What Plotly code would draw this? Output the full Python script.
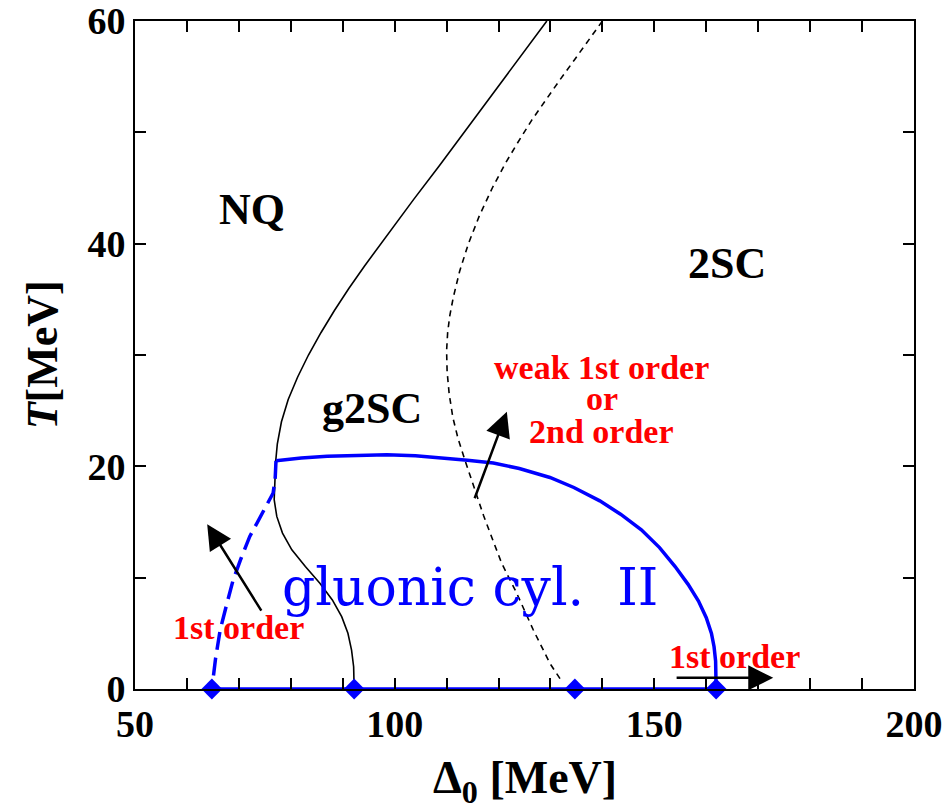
import plotly.graph_objects as go

# ---- data ----
# NQ / g2SC boundary (solid black)
nq_x = [129.3, 121.4, 113.5, 108.6, 103.7, 100.5, 97.3, 94.2, 91.2, 88.4, 85.8, 83.4, 81.3, 79.5, 78.2, 77.4, 77.1,
        76.85, 76.8, 77.3, 78.4, 80.2, 82.8, 85.6, 88.0, 89.8, 91.0, 91.7, 92.1, 92.2]
nq_T = [60.0, 55.0, 50.0, 47.0, 44.0, 42.0, 40.0, 38.0, 36.0, 34.0, 32.0, 30.0, 28.0, 26.0, 24.0, 22.0, 20.5,
        18.5, 17.0, 15.5, 14.0, 12.5, 11.0, 9.5, 8.0, 6.5, 5.0, 3.5, 2.0, 0.0]

# g2SC / 2SC boundary (dashed black)
g2_x = [140.0, 137.9, 134.6, 131.8, 129.2, 126.4, 123.6, 121.3, 118.8, 116.3, 114.2, 112.5, 111.3, 110.6, 110.2,
        110.0, 110.1, 110.5, 111.2, 112.2, 113.5, 115.3, 117.1, 118.8, 120.6, 123.5, 126.7, 129.9, 132.3]
g2_T = [60.0, 58.6, 56.5, 54.7, 53.0, 51.1, 49.0, 47.2, 45.0, 42.5, 40.0, 37.5, 35.2, 33.5, 32.0,
        30.4, 28.5, 26.5, 24.4, 22.5, 20.6, 18.0, 15.6, 13.5, 11.3, 8.6, 5.3, 2.3, 0.6]

# gluonic cylinder II boundary (solid blue)
gc_x = [77.15, 82.0, 87.0, 93.0, 98.5, 104.0, 109.3, 114.0, 119.0, 124.0, 129.9, 134.5, 139.5, 143.5, 147.5,
        151.0, 154.0, 156.5, 158.5, 160.0, 161.0, 161.5, 161.8, 161.9, 161.9]
gc_T = [20.5, 20.75, 20.9, 21.0, 21.05, 20.95, 20.75, 20.55, 20.3, 19.8, 19.0, 18.1, 16.9, 15.7, 14.3,
        12.7, 11.0, 9.4, 7.9, 6.4, 5.0, 3.8, 2.5, 1.2, 0.0]

# first-order boundary (dashed blue)
fo_x = [77.15, 77.0, 76.6, 74.3, 72.1, 70.4, 68.9, 67.6, 66.4, 65.5, 64.8]
fo_T = [20.5, 19.0, 17.6, 15.6, 13.7, 11.7, 9.8, 7.5, 5.3, 2.7, 0.0]

# T = 0 line with marked points
base_x = [64.8, 92.2, 134.7, 161.9]
base_T = [0, 0, 0, 0]

# region labels: (text, x, T)
labels = [
    ("<b>NQ</b>", 72.5, 43.1),
    ("<b>2SC</b>", 163.9, 38.2),
    ("<b>g2SC</b>", 95.6, 25.2),
]
# red transition labels: (text, x, T)
red_labels = [
    ("<b>weak 1st order</b>", 139.9, 28.9),
    ("<b>or</b>", 139.9, 26.05),
    ("<b>2nd order</b>", 139.9, 23.1),
    ("<b>1st order</b>", 70.0, 5.5),
    ("<b>1st order</b>", 165.5, 2.9),
]
# arrows: (tip x, tip T, tail x, tail T)
arrows = [
    (63.9, 14.8, 74.5, 6.9),
    (121.6, 24.9, 115.3, 17.0),
    (172.9, 1.0, 154.0, 1.0),
]

SERIF = "Liberation Serif"
BLUE = "#0000ff"
RED = "#ff0000"

fig = go.Figure()
fig.add_trace(go.Scatter(x=nq_x, y=nq_T, mode="lines", line=dict(color="black", width=1.6), hoverinfo="skip"))
fig.add_trace(go.Scatter(x=g2_x, y=g2_T, mode="lines", line=dict(color="black", width=1.6, dash="6px,5px"), hoverinfo="skip"))
fig.add_trace(go.Scatter(x=gc_x, y=gc_T, mode="lines", line=dict(color=BLUE, width=3.5), hoverinfo="skip"))
fig.add_trace(go.Scatter(x=fo_x, y=fo_T, mode="lines", line=dict(color=BLUE, width=3.5, dash="18px,8px"), hoverinfo="skip"))
fig.add_trace(go.Scatter(x=base_x, y=base_T, mode="lines+markers", line=dict(color=BLUE, width=3.5),
                         marker=dict(symbol="diamond", size=16, color=BLUE), hoverinfo="skip", cliponaxis=False))

ann = []
for t, x, y in labels:
    ann.append(dict(text=t, x=x, y=y, xref="x", yref="y", showarrow=False, xanchor="center", yanchor="middle",
                    font=dict(family=SERIF, size=44, color="black")))
ann.append(dict(text="gluonic cyl.  II", x=114.5, y=9.2, xref="x", yref="y", showarrow=False,
                xanchor="center", yanchor="middle",
                font=dict(family="DejaVu Serif", size=52, color=BLUE)))
for t, x, y in red_labels:
    ann.append(dict(text=t, x=x, y=y, xref="x", yref="y", showarrow=False, xanchor="center", yanchor="middle",
                    font=dict(family=SERIF, size=34, color=RED)))
for tx, ty, sx, sy in arrows:
    ann.append(dict(text="", x=tx, y=ty, ax=sx, ay=sy, xref="x", yref="y", axref="x", ayref="y",
                    showarrow=True, arrowhead=2, arrowsize=2.0, arrowwidth=2.5, arrowcolor="black", standoff=0))
ann.append(dict(text="<b><i>T</i>[MeV]</b>", x=-0.119, y=0.5, xref="paper", yref="paper", textangle=-90,
                xanchor="center", yanchor="middle",
                showarrow=False, font=dict(family=SERIF, size=44, color="black")))
ann.append(dict(text="<b>Δ<sub>0</sub> [MeV]</b>", x=0.5, y=-0.138, xref="paper", yref="paper",
                xanchor="center", yanchor="middle",
                showarrow=False, font=dict(family=SERIF, size=46, color="black")))

axis_common = dict(showgrid=False, zeroline=False, showline=True, linecolor="black", linewidth=2,
                   mirror="ticks", ticks="inside", ticklen=11, tickwidth=1.5, tickcolor="black", automargin=False,
                   tickfont=dict(family=SERIF, size=38, color="black"))
fig.update_layout(
    width=948, height=809,
    margin=dict(l=135, r=34, t=21, b=120),
    paper_bgcolor="white", plot_bgcolor="white",
    showlegend=False,
    xaxis=dict(range=[50, 200], dtick=50, tick0=50,
               minor=dict(dtick=10, ticks="inside", ticklen=11, tickwidth=1.5, tickcolor="black", showgrid=False),
               **axis_common),
    yaxis=dict(range=[0, 60], dtick=20, tick0=0,
               minor=dict(dtick=10, ticks="inside", ticklen=11, tickwidth=1.5, tickcolor="black", showgrid=False),
               **axis_common),
    annotations=ann,
)
fig.update_xaxes(tickprefix="<b>", ticksuffix="</b>")
fig.update_yaxes(tickprefix="<b>", ticksuffix="</b>")
fig.write_html("out.html")
